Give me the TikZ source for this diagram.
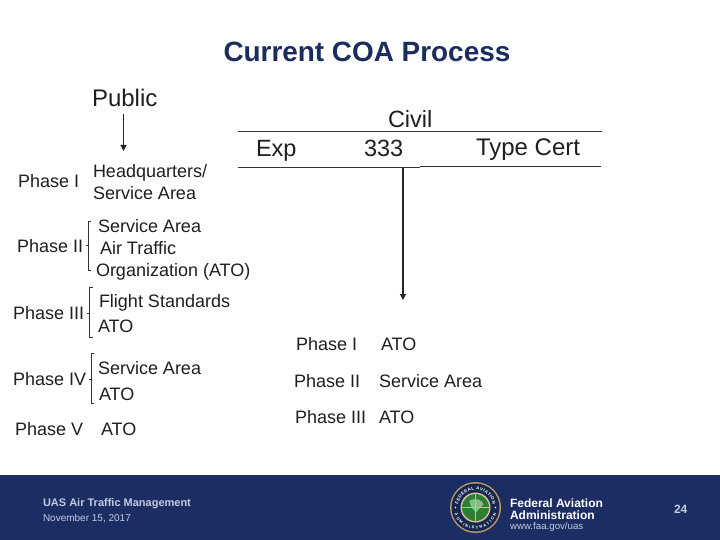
\documentclass[tikz,border=0pt]{standalone}
\usepackage{fontspec}
\setmainfont{Liberation Sans}
\usetikzlibrary{arrows.meta,decorations.text}
\definecolor{footer}{HTML}{1B2D63}
\definecolor{titleblue}{HTML}{1B2D5E}
\definecolor{footertext}{HTML}{C3CAE0}
\definecolor{ringtan}{HTML}{B89A6A}
\definecolor{ringnavy}{HTML}{16264F}
\definecolor{globegreen}{HTML}{2E7D32}
\definecolor{globegold}{HTML}{D8C06A}
\tikzset{
  every node/.style={inner sep=0pt,outer sep=0pt,anchor=base west,text=black!88},
  titletext/.style={font=\fontsize{27.9}{30}\selectfont\bfseries,text=titleblue},
  bigtext/.style={font=\fontsize{23.5}{26}\selectfont},
  widetext/.style={font=\fontsize{24}{26}\selectfont},
  midtext/.style={font=\fontsize{18}{20}\selectfont},
  conn/.style={draw=black!85,line width=1.1pt},
  thin conn/.style={draw=black!80,line width=0.7pt},
  arr/.style={conn,-{Triangle[length=6pt,width=6pt]}},
  footbold/.style={font=\fontsize{11}{12}\selectfont\bfseries,text=footertext},
  footreg/.style={font=\fontsize{10}{12}\selectfont,text=footertext},
  faabig/.style={font=\fontsize{12}{14}\selectfont\bfseries,text=white},
  faaurl/.style={font=\fontsize{9.7}{12}\selectfont,text=footertext},
  pagenum/.style={font=\fontsize{12}{12}\selectfont\bfseries,text=footertext},
}
\begin{document}
\begin{tikzpicture}[x=1pt,y=-1pt]
\useasboundingbox (0,0) rectangle (720,540);
\fill[white] (0,0) rectangle (720,540);
\fill[footer] (0,475) rectangle (720,540);
% title
\node[titletext] (title) at (223.5,62) {Current COA Process};
% left column
\node[widetext] (public) at (92,107) {Public};
\node[midtext] (p1) at (18,188) {Phase I};
\node[midtext] (hq) at (93,178) {Headquarters/};
\node[midtext] (sa1) at (93,200) {Service Area};
\node[midtext] (p2) at (17,252) {Phase II};
\node[midtext] (sa2) at (98,233) {Service Area};
\node[midtext] (air) at (100,254.5) {Air Traffic};
\node[midtext] (org) at (96,276) {Organization (ATO)};
\node[midtext] (p3) at (13,319) {Phase III};
\node[midtext] (fs) at (99,307) {Flight Standards};
\node[midtext] (ato3) at (98,332) {ATO};
\node[midtext] (p4) at (13,385) {Phase IV};
\node[midtext] (sa4) at (98,374) {Service Area};
\node[midtext] (ato4) at (99,400) {ATO};
\node[midtext] (p5) at (15,435) {Phase V};
\node[midtext] (ato5) at (101,435) {ATO};
% top right
\node[bigtext] (civil) at (388,128) {Civil};
\node[bigtext] (exp) at (256,157) {Exp};
\node[bigtext] (n333) at (364,157) {333};
\node[widetext] (tc) at (476,156) {Type Cert};
% right column
\node[midtext] (rp1) at (296,350) {Phase I};
\node[midtext] (rato1) at (381,350) {ATO};
\node[midtext] (rp2) at (294,387) {Phase II};
\node[midtext] (rsa) at (379,387) {Service Area};
\node[midtext] (rp3) at (295,423) {Phase III};
\node[midtext] (rato3) at (379,423) {ATO};
% connectors
\coordinate (pubTop) at (123.5,114);
\coordinate (pubEnd) at (123.5,151);
\draw[arr] (pubTop) -- (pubEnd);
\coordinate (tl) at (238,131);
\coordinate (tr) at (602,131);
\coordinate (bl) at (238,167);
\coordinate (bm) at (420,167);
\coordinate (bm2) at (420,166);
\coordinate (br) at (601,166);
\draw[thin conn] (tl) -- (tr);
\draw[thin conn] (bl) -- (bm);
\draw[thin conn] (bm2) -- (br);
\coordinate (civTop) at (403,167);
\coordinate (civEnd) at (403,300);
\draw[arr] (civTop) -- (civEnd);
% brackets
\coordinate (b2a) at (91,221); \coordinate (b2b) at (88.5,221); \coordinate (b2c) at (88.5,270); \coordinate (b2d) at (91,270);
\coordinate (b2t) at (86,245); \coordinate (b2u) at (88.5,245);
\draw[thin conn] (b2a) -- (b2b) -- (b2c) -- (b2d);
\draw[thin conn] (b2t) -- (b2u);
\coordinate (b3a) at (92.5,287); \coordinate (b3b) at (89.5,287); \coordinate (b3c) at (89.5,337); \coordinate (b3d) at (92.5,337);
\coordinate (b3t) at (87,313); \coordinate (b3u) at (89.5,313);
\draw[thin conn] (b3a) -- (b3b) -- (b3c) -- (b3d);
\draw[thin conn] (b3t) -- (b3u);
\coordinate (b4a) at (94,353); \coordinate (b4b) at (91,353); \coordinate (b4c) at (91,403); \coordinate (b4d) at (94,403);
\coordinate (b4t) at (88.5,379); \coordinate (b4u) at (91,379);
\draw[thin conn] (b4a) -- (b4b) -- (b4c) -- (b4d);
\draw[thin conn] (b4t) -- (b4u);
% footer text
\node[footbold] (ftitle) at (43,506) {UAS Air Traffic Management};
\node[footreg] (fdate) at (43,521) {November 15, 2017};
\node[faabig] (faa1) at (510,507) {Federal Aviation};
\node[faabig] (faa2) at (510,519) {Administration};
\node[faaurl] (faa3) at (510,529) {www.faa.gov/uas};
\node[pagenum] (pg) at (674,513) {24};
% logo
\begin{scope}[shift={(475.5,507.5)},x=1pt,y=1pt]
\fill[ringtan] (0,0) circle[radius=25.5];
\fill[ringnavy] (0,0) circle[radius=24];
\fill[ringtan!60!white] (0,0) circle[radius=15];
\fill[globegreen] (0,0) circle[radius=13.5];
\fill[globegreen!55!white] (-6,7) .. controls (0,10) and (7,8) .. (8,3) .. controls (5,1) and (3,-2) .. (1,-5) .. controls (-3,-2) and (-6,2) .. (-6,7) -- cycle;
\draw[globegold,line width=0.8pt] (0,13.5) -- (0,-13.5) (-13.5,0) -- (13.5,0);
\fill[white] (-20,0) circle[radius=0.9] (20,0) circle[radius=0.9];
\path[postaction={decorate,decoration={text along path,text align={fit to path},text={|\fontsize{4.4}{5}\selectfont\bfseries\color{white}|FEDERAL AVIATION}}}] (170:17.5) arc[start angle=170,end angle=10,radius=17.5];
\path[postaction={decorate,decoration={text along path,text align={fit to path},text={|\fontsize{4}{5}\selectfont\bfseries\color{white}|ADMINISTRATION}}}] (197:21.8) arc[start angle=197,end angle=343,radius=21.8];
\end{scope}
\end{tikzpicture}
\end{document}
